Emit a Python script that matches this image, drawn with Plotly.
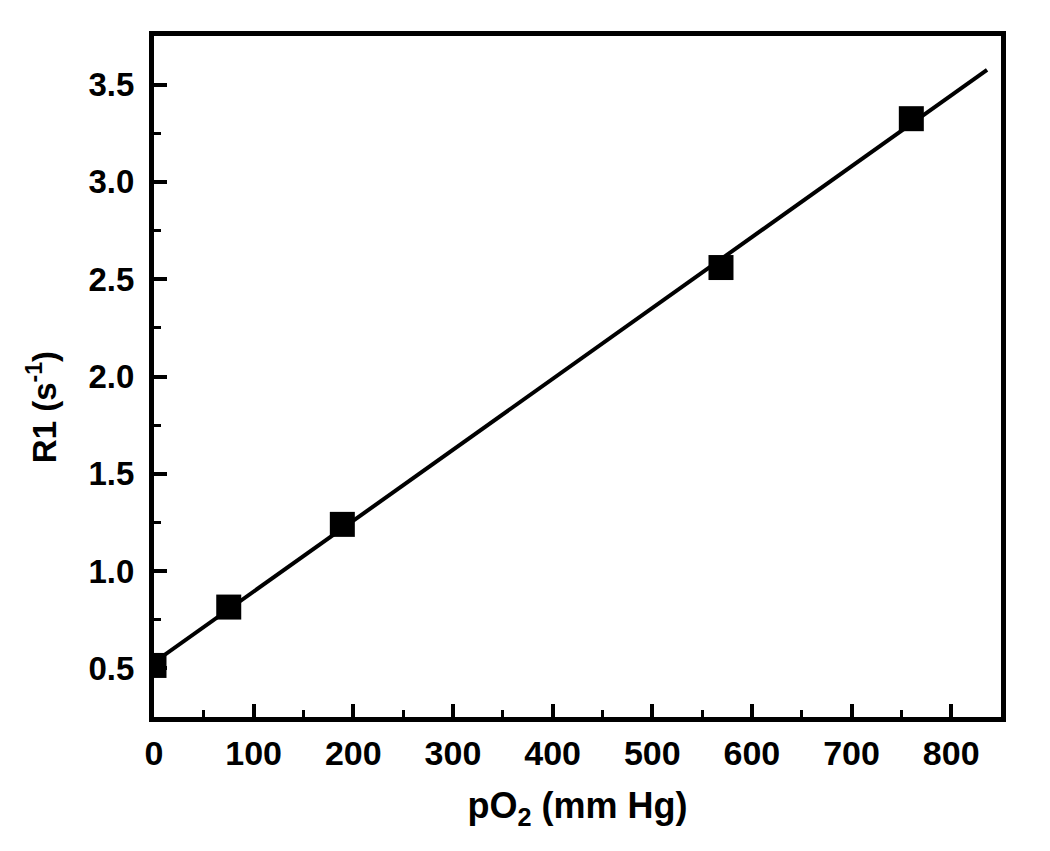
import numpy as np
import plotly.graph_objects as go

# Data
po2 = [0, 75, 189, 569, 760]          # pO2 (mm Hg)
r1 = [0.515, 0.815, 1.24, 2.56, 3.325]  # R1 (s^-1)

# Linear fit of the data, drawn over the fit range
fit_range = [0, 836]
slope, intercept = np.polyfit(po2, r1, 1)
fit_y = [intercept + slope * x for x in fit_range]

x_ticks = [0, 100, 200, 300, 400, 500, 600, 700, 800]
y_ticks = [0.5, 1.0, 1.5, 2.0, 2.5, 3.0, 3.5]

fig = go.Figure()
fig.add_trace(go.Scatter(x=fit_range, y=fit_y, mode="lines",
                         line=dict(color="black", width=4), showlegend=False))
fig.add_trace(go.Scatter(x=po2, y=r1, mode="markers",
                         marker=dict(symbol="square", size=25, color="black"),
                         showlegend=False))

font = "Liberation Sans, Arial, sans-serif"
fig.update_layout(
    width=1042, height=843,
    margin=dict(l=146, r=49, t=28, b=134),
    paper_bgcolor="white", plot_bgcolor="white",
    font=dict(family=font, color="black"),
    xaxis=dict(
        range=[0, 850], tickvals=x_ticks, ticktext=[str(v) for v in x_ticks],
        ticks="inside", ticklen=13, tickwidth=4, tickcolor="black",
        minor=dict(ticks="inside", ticklen=7, tickwidth=3, dtick=50, tickcolor="black"),
        showline=True, linewidth=5, linecolor="black", mirror=True,
        showgrid=False, zeroline=False, automargin=False,
        ticklabelstandoff=2,
        tickfont=dict(size=34, family=font, weight="bold"),
        title=dict(text="pO<sub>2</sub> (mm Hg)", font=dict(size=36, family=font, weight="bold"), standoff=24),
    ),
    yaxis=dict(
        range=[0.25, 3.75], tickvals=y_ticks, ticktext=[f"{v:.1f}" for v in y_ticks],
        ticks="inside", ticklen=13, tickwidth=4, tickcolor="black",
        minor=dict(ticks="inside", ticklen=7, tickwidth=3, dtick=0.25, tick0=0.25, tickcolor="black"),
        showline=True, linewidth=5, linecolor="black", mirror=True,
        showgrid=False, zeroline=False, automargin=False,
        ticklabelstandoff=8,
        tickfont=dict(size=33, family=font, weight="bold"),
    ),
    annotations=[dict(
        text="R1 (s<sup>-1</sup>)", textangle=-90, showarrow=False,
        xref="paper", yref="paper", x=0, y=0.455, xanchor="center", yanchor="middle",
        xshift=-112, font=dict(size=33, family=font, weight="bold", color="black"),
    )],
)
fig.write_html("out.html")
